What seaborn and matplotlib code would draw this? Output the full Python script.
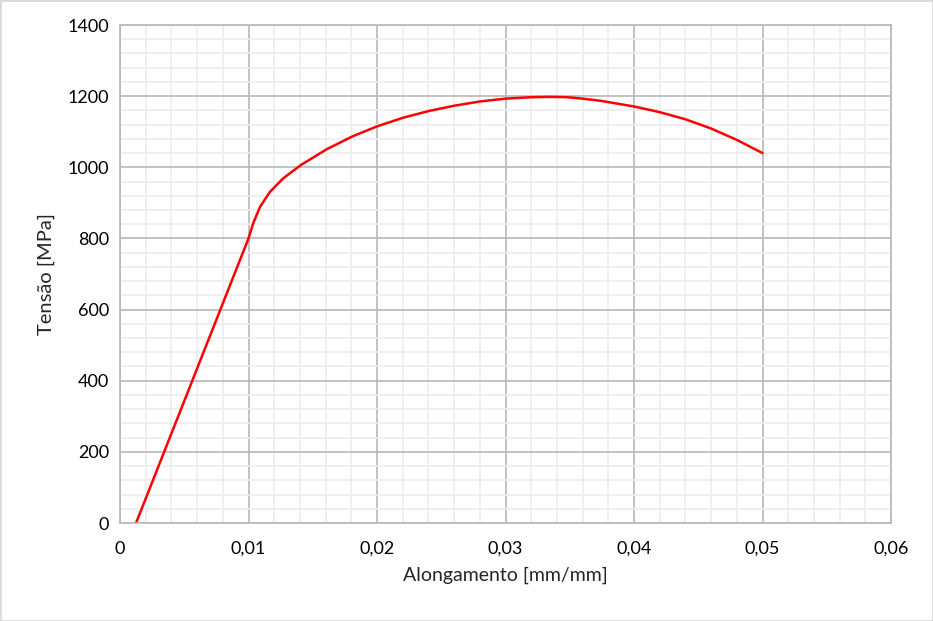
import matplotlib
matplotlib.use("Agg")
import matplotlib.pyplot as plt
import seaborn as sns
import numpy as np
import pandas as pd
from matplotlib.ticker import MultipleLocator, FuncFormatter
from matplotlib.patches import Rectangle

# stress-strain curve
alongamento = [0.00125, 0.0100, 0.01037, 0.0109, 0.01167, 0.0127, 0.0141, 0.0161,
               0.0181, 0.0200, 0.0220, 0.0240, 0.0260, 0.0280, 0.0300, 0.0320,
               0.0334, 0.0348, 0.0360, 0.0374, 0.0400, 0.0420, 0.0440, 0.0460,
               0.0480, 0.0500]
tensao = [0, 800, 843, 889, 931, 969, 1007, 1051,
          1087, 1115, 1139, 1158, 1173, 1185, 1193, 1197,
          1198, 1197, 1193, 1187, 1171, 1155, 1135, 1109,
          1077, 1040]

df = pd.DataFrame({"x": alongamento, "y": tensao})

sns.set_style("white")
plt.rcParams["font.family"] = ["Lato", "DejaVu Sans"]

fig = plt.figure(figsize=(9.33, 6.21), dpi=100)
ax = fig.add_axes([120 / 933, 98 / 621, 771 / 933, 498 / 621])

sns.lineplot(data=df, x="x", y="y", sort=False, color="#ff0000", linewidth=1.8, ax=ax)

ax.set_xlim(0, 0.06)
ax.set_ylim(0, 1400)
ax.xaxis.set_major_locator(MultipleLocator(0.01))
ax.xaxis.set_minor_locator(MultipleLocator(0.002))
ax.yaxis.set_major_locator(MultipleLocator(200))
ax.yaxis.set_minor_locator(MultipleLocator(40))

def fmt_x(v, pos):
    if abs(v) < 1e-9:
        return "0"
    return f"{v:.2f}".replace(".", ",")

ax.xaxis.set_major_formatter(FuncFormatter(fmt_x))
ax.yaxis.set_major_formatter(FuncFormatter(lambda v, p: f"{v:.0f}"))

ax.grid(which="minor", color="#ececec", linewidth=1.2)
ax.grid(which="major", color="#b8b8b8", linewidth=1.2)
ax.set_axisbelow(True)
for s in ax.spines.values():
    s.set_color("#b8b8b8")
    s.set_linewidth(1.2)

ax.tick_params(axis="both", which="both", length=0, labelsize=13, colors="black", pad=8)
ax.tick_params(axis="x", pad=13)

ax.set_xlabel("Alongamento [mm/mm]", fontsize=14, labelpad=7)
ax.set_ylabel("Tensão [MPa]", fontsize=14.5, labelpad=9)

fig.patches.append(Rectangle((0, 0), 1, 1, transform=fig.transFigure, fill=False,
                             edgecolor="#d9d9d9", linewidth=2))

fig.savefig("out.png", dpi=100)
